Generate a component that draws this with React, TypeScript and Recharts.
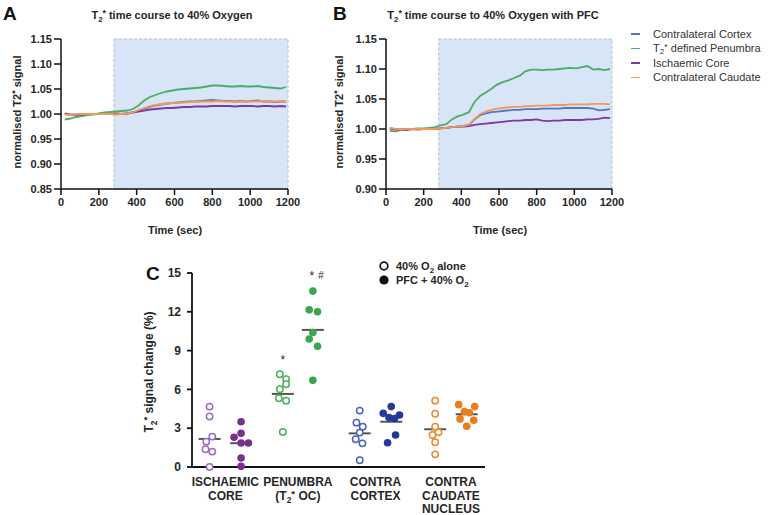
import React from 'react';
import {
  LineChart, Line, XAxis, YAxis, ReferenceArea,
  ScatterChart, Scatter, ReferenceLine, ReferenceDot,
} from 'recharts';

const FONT = '"Liberation Sans", Arial, Helvetica, sans-serif';
const INK = '#262626';

// ---- panels A & B: time courses (sampled every 30 s) ----
const times = [20, 50, 80, 110, 140, 170, 200, 230, 260, 290, 320, 350, 380, 410, 440, 470, 500, 530, 560, 590,
  620, 650, 680, 710, 740, 770, 800, 830, 860, 890, 920, 950, 980, 1010, 1040, 1070, 1100, 1130, 1160, 1190];

const cortexA = [1.001, 0.999, 0.999, 1.0, 1.0, 1.0, 1.0, 1.001, 1.0, 1.001, 1.0, 1.001, 1.003, 1.007, 1.011, 1.014, 1.017, 1.019, 1.021, 1.022,
  1.023, 1.024, 1.025, 1.025, 1.026, 1.027, 1.028, 1.027, 1.026, 1.026, 1.025, 1.026, 1.025, 1.026, 1.027, 1.025, 1.025, 1.024, 1.025, 1.025];
const penumbraA = [0.989, 0.991, 0.994, 0.996, 0.998, 0.999, 1.001, 1.003, 1.004, 1.005, 1.006, 1.007, 1.01, 1.017, 1.027, 1.034, 1.038, 1.042, 1.045, 1.047,
  1.049, 1.05, 1.051, 1.052, 1.053, 1.055, 1.057, 1.057, 1.056, 1.055, 1.055, 1.056, 1.055, 1.055, 1.056, 1.054, 1.053, 1.052, 1.051, 1.054];
const coreA = [1.001, 0.998, 0.998, 0.999, 1.0, 1.0, 1.0, 1.0, 1.0, 1.0, 1.0, 1.001, 1.003, 1.005, 1.007, 1.009, 1.01, 1.011, 1.012, 1.012,
  1.013, 1.014, 1.014, 1.015, 1.015, 1.015, 1.016, 1.016, 1.016, 1.016, 1.015, 1.016, 1.016, 1.016, 1.015, 1.016, 1.016, 1.015, 1.016, 1.015];
const caudateA = [0.999, 0.998, 0.999, 1.0, 1.0, 1.0, 1.0, 1.0, 1.0, 0.999, 1.0, 1.001, 1.003, 1.008, 1.012, 1.016, 1.018, 1.02, 1.021, 1.022,
  1.023, 1.023, 1.024, 1.024, 1.025, 1.025, 1.025, 1.026, 1.025, 1.025, 1.024, 1.025, 1.025, 1.025, 1.025, 1.026, 1.025, 1.025, 1.025, 1.026];

const cortexB = [1.001, 1.0, 0.999, 1.0, 1.0, 1.0, 1.0, 1.0, 1.0, 1.001, 1.002, 1.003, 1.004, 1.005, 1.007, 1.016, 1.023, 1.026, 1.028, 1.029,
  1.03, 1.031, 1.032, 1.032, 1.033, 1.033, 1.033, 1.034, 1.034, 1.034, 1.034, 1.035, 1.035, 1.035, 1.035, 1.035, 1.034, 1.031, 1.032, 1.033];
const penumbraB = [0.997, 0.996, 0.998, 1.0, 1.0, 1.001, 1.001, 1.002, 1.003, 1.006, 1.008, 1.016, 1.021, 1.024, 1.028, 1.045, 1.055, 1.061, 1.067, 1.074,
  1.078, 1.081, 1.085, 1.089, 1.096, 1.099, 1.099, 1.098, 1.099, 1.099, 1.1, 1.101, 1.102, 1.101, 1.103, 1.105, 1.099, 1.1, 1.098, 1.1];
const coreB = [1.001, 0.999, 0.999, 0.998, 1.0, 0.999, 1.0, 1.0, 1.0, 1.001, 1.002, 1.003, 1.004, 1.004, 1.005, 1.007, 1.008, 1.009, 1.01, 1.011,
  1.012, 1.013, 1.014, 1.014, 1.015, 1.015, 1.016, 1.014, 1.013, 1.014, 1.014, 1.015, 1.015, 1.015, 1.015, 1.016, 1.016, 1.017, 1.019, 1.018];
const caudateB = [1.002, 1.0, 0.999, 1.0, 1.0, 1.0, 1.0, 1.0, 1.0, 1.001, 1.002, 1.003, 1.004, 1.005, 1.007, 1.017, 1.025, 1.029, 1.032, 1.034,
  1.035, 1.036, 1.037, 1.037, 1.038, 1.038, 1.039, 1.039, 1.039, 1.04, 1.04, 1.04, 1.041, 1.041, 1.041, 1.041, 1.042, 1.042, 1.042, 1.041];

const timeTicks = [0, 200, 400, 600, 800, 1000, 1200];
const ticksA = [0.85, 0.9, 0.95, 1.0, 1.05, 1.1, 1.15];
const ticksB = [0.9, 0.95, 1.0, 1.05, 1.1, 1.15];
const O2_ON = 280;

const REGIONS = [
  { key: 'cortex', name: 'Contralateral Cortex', color: '#5a72c2' },
  { key: 'penumbra', name: 'T2* defined Penumbra', color: '#4cab68' },
  { key: 'core', name: 'Ischaemic Core', color: '#7b3a9f' },
  { key: 'caudate', name: 'Contralateral Caudate', color: '#f09a58' },
];

const rowsA = times.map((t, i) => ({ t, cortex: cortexA[i], penumbra: penumbraA[i], core: coreA[i], caudate: caudateA[i] }));
const rowsB = times.map((t, i) => ({ t, cortex: cortexB[i], penumbra: penumbraB[i], core: coreB[i], caudate: caudateB[i] }));

// ---- panel C: signal change (%) per animal ----
const groupLabels = [['ISCHAEMIC', 'CORE'], ['PENUMBRA', '(T2* OC)'], ['CONTRA', 'CORTEX'], ['CONTRA', 'CAUDATE', 'NUCLEUS']];
const o2Alone = [
  [4.67, 3.9, 2.35, 1.96, 1.37, 1.19, 0],
  [7.17, 6.78, 6.4, 6.01, 5.32, 5.13, 2.71],
  [4.36, 3.43, 3.12, 2.66, 2.14, 1.83, 0.52],
  [5.13, 4.12, 3.12, 2.68, 2.48, 1.91, 0.98],
];
const pfcO2 = [
  [3.5, 2.6, 2.3, 1.85, 1.85, 0.7, 0.05],
  [13.6, 12.15, 12.0, 10.4, 9.9, 9.34, 6.71],
  [4.67, 4.15, 4.02, 3.82, 3.75, 2.48, 1.88],
  [4.82, 4.67, 4.28, 4.2, 3.72, 3.61, 3.15],
];
const o2AloneMean = [2.17, 5.65, 2.6, 2.92];
const pfcMean = [1.84, 10.6, 3.5, 4.08];
// sideways spread of each dot, as a fraction of one category
const o2AloneSpread = [
  [0, 0, 0.037, -0.045, -0.055, 0.037, 0],
  [-0.041, 0.045, 0.045, -0.041, -0.055, 0.045, 0],
  [0, -0.045, 0.041, 0, -0.055, 0.037, 0],
  [0, 0, 0, 0.045, -0.037, 0, 0],
];
const pfcSpread = [
  [0, 0, -0.096, 0, 0.1, 0, 0],
  [0, -0.05, 0.064, 0, -0.05, 0.064, 0],
  [0, -0.109, 0.113, -0.031, 0.045, 0.059, -0.05],
  [-0.109, 0.109, -0.031, 0.037, -0.091, 0.096, 0],
];
const o2AloneX = [0.24, 1.24, 2.29, 3.32];
const pfcX = [0.67, 1.65, 2.72, 3.75];
const groupX = o2AloneX.map((v, i) => (v + pfcX[i]) / 2);
const o2AloneColors = ['#9c6cc2', '#4db05c', '#4c62b9', '#eb8a2f'];
const pfcColors = ['#7a2e8f', '#3aa54a', '#22389b', '#e67d1e'];
const pctTicks = [0, 3, 6, 9, 12, 15];

// T2* with subscript 2 and superscript star, inside svg text
function rich(str: string, size: number, sub = true) {
  const parts = str.split('T2*');
  const out: React.ReactNode[] = [];
  parts.forEach((p, i) => {
    if (i > 0) {
      if (sub) {
        out.push(
          <tspan key={'t' + i}>T</tspan>,
          <tspan key={'s' + i} dy={size * 0.3} fontSize={size * 0.7}>2</tspan>,
          <tspan key={'p' + i} dy={-size * 0.55} fontSize={size * 0.8}>*</tspan>,
          <tspan key={'r' + i} dy={size * 0.25}>{p}</tspan>,
        );
      } else {
        out.push(
          <tspan key={'t' + i}>T2</tspan>,
          <tspan key={'p' + i} dy={-size * 0.3} fontSize={size * 0.8}>*</tspan>,
          <tspan key={'r' + i} dy={size * 0.3}>{p}</tspan>,
        );
      }
    } else if (p) {
      out.push(<tspan key="h">{p}</tspan>);
    }
  });
  return out;
}

const tickAB = { fill: INK, fontSize: 11, fontWeight: 'bold' as const, fontFamily: FONT };

function TimePanel({ rows, yMin, ticks, left, width, axisWidth }: any) {
  return (
    <div style={{ position: 'absolute', left, top: 0 }}>
      <LineChart width={width} height={240} data={rows} margin={{ top: 39, right: 12, bottom: 3, left: 0 }}>
        <ReferenceArea x1={O2_ON} x2={1200} y1={yMin} y2={1.15} fill="#d8e5f6" fillOpacity={1}
          stroke="#b7c1cd" strokeDasharray="3 2" strokeWidth={1} />
        <XAxis dataKey="t" type="number" domain={[0, 1200]} ticks={timeTicks} height={48}
          tick={tickAB} tickSize={6} tickMargin={3} stroke="#111" strokeWidth={1.5} interval={0} />
        <YAxis type="number" domain={[yMin, 1.15]} ticks={ticks} width={axisWidth}
          tickFormatter={(v: number) => v.toFixed(2)} tick={tickAB} tickSize={7} tickMargin={2}
          stroke="#111" strokeWidth={1.5} interval={0} />
        {REGIONS.map((r) => (
          <Line key={r.key} type="linear" dataKey={r.key} name={r.name} stroke={r.color} strokeWidth={1.8}
            dot={false} isAnimationActive={false} />
        ))}
      </LineChart>
    </div>
  );
}

function GroupTick({ x, y, index }: any) {
  const lines = groupLabels[index] || [];
  return (
    <text x={x} y={y} textAnchor="middle" fill={INK} fontSize={12} fontWeight="bold" fontFamily={FONT}>
      {lines.map((ln, i) => (
        <tspan key={i} x={x} y={y + 11 + i * 13.6}>{ln.includes('T2*') ? rich(ln, 12) : ln}</tspan>
      ))}
    </text>
  );
}

const openDot = (color: string) => (p: any) => (
  <circle cx={p.cx} cy={p.cy} r={3.2} fill="#fff" stroke={color} strokeWidth={1.5} />
);
const fullDot = (color: string) => (p: any) => (
  <circle cx={p.cx} cy={p.cy} r={3.8} fill={color} />
);

function ScatterPanel() {
  const MEAN_HALF = 0.15;
  return (
    <div style={{ position: 'absolute', left: 100, top: 255 }}>
      <ScatterChart width={400} height={260} margin={{ top: 18, right: 15, bottom: 0, left: 0 }}>
        <XAxis dataKey="x" type="number" domain={[0, 4]} ticks={groupX} height={48} tick={<GroupTick />}
          tickLine={false} stroke="#111" strokeWidth={1.8} interval={0} />
        <YAxis dataKey="y" type="number" domain={[0, 15]} ticks={pctTicks} width={92}
          tick={{ fill: INK, fontSize: 12, fontWeight: 'bold', fontFamily: FONT }} tickSize={5} tickMargin={6}
          stroke="#111" strokeWidth={1.8} interval={0} />
        {o2AloneMean.map((m, g) => (
          <ReferenceLine key={'mo' + g} segment={[{ x: o2AloneX[g] - MEAN_HALF, y: m }, { x: o2AloneX[g] + MEAN_HALF, y: m }]}
            stroke="#555" strokeWidth={2} />
        ))}
        {pfcMean.map((m, g) => (
          <ReferenceLine key={'mp' + g} segment={[{ x: pfcX[g] - MEAN_HALF, y: m }, { x: pfcX[g] + MEAN_HALF, y: m }]}
            stroke="#555" strokeWidth={2} />
        ))}
        {o2Alone.map((vals, g) => (
          <Scatter key={'o' + g} data={vals.map((y, i) => ({ x: o2AloneX[g] + o2AloneSpread[g][i], y }))}
            shape={openDot(o2AloneColors[g])} isAnimationActive={false} />
        ))}
        {pfcO2.map((vals, g) => (
          <Scatter key={'p' + g} data={vals.map((y, i) => ({ x: pfcX[g] + pfcSpread[g][i], y }))}
            shape={fullDot(pfcColors[g])} isAnimationActive={false} />
        ))}
        <ReferenceDot x={o2AloneX[1]} y={8.5} r={0}
          shape={(p: any) => (
            <text x={p.cx} y={p.cy + 7} textAnchor="middle" fontSize={12} fill={INK} fontFamily={FONT}>*</text>
          )} />
        <ReferenceDot x={pfcX[1] + 0.05} y={15} r={0}
          shape={(p: any) => (
            <text x={p.cx} y={p.cy + 7} textAnchor="middle" fontSize={12} fill={INK} fontFamily={FONT}>
              *<tspan dx={4} dy={-1} fontSize={10} fontStyle="italic">#</tspan>
            </text>
          )} />
      </ScatterChart>
    </div>
  );
}

function LegendB() {
  return (
    <div style={{ position: 'absolute', left: 631, top: 27, fontFamily: FONT, fontSize: 11, color: '#333' }}>
      {REGIONS.map((r) => {
        const parts = r.name.split('T2*');
        return (
          <div key={r.key} style={{ height: 14.4, display: 'flex', alignItems: 'center', whiteSpace: 'nowrap' }}>
            <span style={{ display: 'inline-block', width: 9, height: 1.6, background: r.color, marginRight: 13 }} />
            <span style={{ lineHeight: '14px' }}>
              {parts.length > 1 ? (
                <>T<span style={{ fontSize: 8, position: 'relative', top: 2 }}>2</span>
                  <span style={{ fontSize: 9, position: 'relative', top: -2 }}>*</span>{parts[1]}</>
              ) : r.name}
            </span>
          </div>
        );
      })}
    </div>
  );
}

function Annotations() {
  const bold = { fontFamily: FONT, fontWeight: 'bold' as const, fill: INK };
  return (
    <svg width={774} height={515} style={{ position: 'absolute', left: 0, top: 0, pointerEvents: 'none' }}>
      <text x={3} y={20} fontSize={19} {...bold} fill="#111">A</text>
      <text x={333} y={20} fontSize={19} {...bold} fill="#111">B</text>
      <text x={146} y={280} fontSize={19} {...bold} fill="#111">C</text>

      <text x={172} y={19} fontSize={11} textAnchor="middle" {...bold}>{rich('T2* time course to 40% Oxygen', 11)}</text>
      <text x={493} y={19} fontSize={11} textAnchor="middle" {...bold}>{rich('T2* time course to 40% Oxygen with PFC', 11)}</text>

      <text transform="translate(21,112) rotate(-90)" fontSize={11} textAnchor="middle" {...bold}>
        {rich('normalised T2* signal', 11, false)}
      </text>
      <text transform="translate(343,112) rotate(-90)" fontSize={11} textAnchor="middle" {...bold}>
        {rich('normalised T2* signal', 11, false)}
      </text>
      <text x={175} y={234} fontSize={11} textAnchor="middle" {...bold}>Time (sec)</text>
      <text x={500} y={234} fontSize={11} textAnchor="middle" {...bold}>Time (sec)</text>

      <text transform="translate(153,372) rotate(-90)" fontSize={12} textAnchor="middle" {...bold}>
        {rich('T2* signal change (%)', 12)}
      </text>

      <circle cx={384} cy={266} r={3.8} fill="#fff" stroke="#111" strokeWidth={1.8} />
      <text x={396} y={270} fontSize={11} {...bold}>
        40% O<tspan dy={3} fontSize={8}>2</tspan><tspan dy={-3}> alone</tspan>
      </text>
      <circle cx={384} cy={280} r={4.6} fill="#111" />
      <text x={396} y={284} fontSize={11} {...bold}>
        PFC + 40% O<tspan dy={3} fontSize={8}>2</tspan>
      </text>
    </svg>
  );
}

export default function App() {
  return (
    <div style={{ position: 'absolute', left: 0, top: 0, width: 774, height: 515, background: '#fff', fontFamily: FONT }}>
      <TimePanel rows={rowsA} yMin={0.85} ticks={ticksA} left={0} width={300} axisWidth={61} />
      <TimePanel rows={rowsB} yMin={0.9} ticks={ticksB} left={320} width={304} axisWidth={66} />
      <LegendB />
      <ScatterPanel />
      <Annotations />
    </div>
  );
}
